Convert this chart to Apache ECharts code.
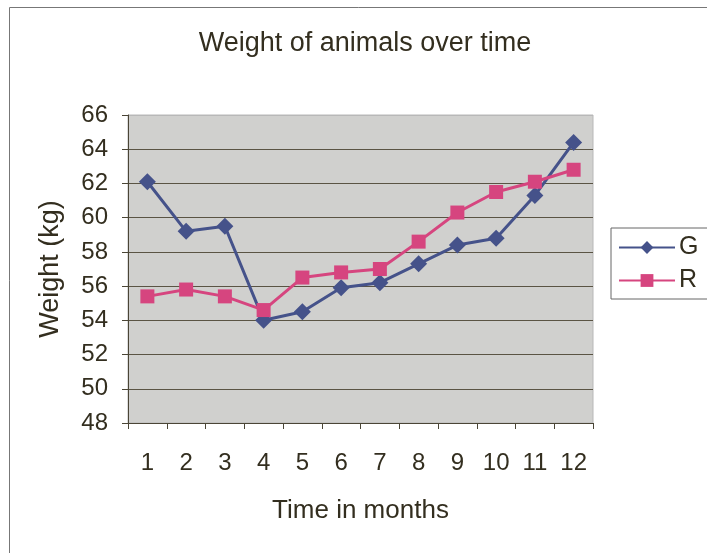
<!DOCTYPE html>
<html><head><meta charset="utf-8">
<script src="https://cdn.jsdelivr.net/npm/echarts@6/dist/echarts.min.js"></script>
<style>html,body{margin:0;padding:0;background:#fff}#c{width:707px;height:553px}</style>
</head><body><div id="c"></div>
<script>
const months = ['1','2','3','4','5','6','7','8','9','10','11','12'];
const seriesG = [62.1, 59.2, 59.5, 54.0, 54.5, 55.9, 56.2, 57.3, 58.4, 58.8, 61.3, 64.4];
const seriesR = [55.4, 55.8, 55.4, 54.6, 56.5, 56.8, 57.0, 58.6, 60.3, 61.5, 62.1, 62.8];
const yTicks = {min: 48, max: 66, interval: 2};

const txt = '#332e1f';
const font = '"Liberation Sans", Arial, sans-serif';
const chart = echarts.init(document.getElementById('c'));
chart.setOption({
  backgroundColor: '#fff',
  animation: false,
  textStyle: {fontFamily: font, color: txt},
  graphic: [{
    type: 'rect', shape: {x: 9.5, y: 7.5, width: 720, height: 560},
    style: {fill: null, stroke: '#777', lineWidth: 1}, z: -10
  }],
  title: {
    text: 'Weight of animals over time', left: 360, top: 25, textAlign: 'center',
    textStyle: {fontSize: 27, fontWeight: 'normal', color: txt, fontFamily: font}
  },
  legend: {
    orient: 'vertical', left: 611, top: 228, width: 94,
    padding: [7, 12, 6, 7], itemGap: 8, itemWidth: 56, itemHeight: 16,
    borderColor: '#666', borderWidth: 1, backgroundColor: '#fff',
    textStyle: {fontSize: 25, color: txt, fontFamily: font, padding: [0, 0, 0, -1]},
    data: ['G', 'R']
  },
  grid: {
    left: 128, top: 115, width: 465, height: 308, show: true,
    backgroundColor: '#d0d0ce', borderColor: '#b8b8b8', borderWidth: 1
  },
  xAxis: {
    type: 'category', data: months, boundaryGap: true,
    name: 'Time in months', nameLocation: 'middle', nameGap: 75,
    nameTextStyle: {fontSize: 26, color: txt, fontFamily: font},
    axisLine: {lineStyle: {color: '#4a4536', width: 1}},
    axisTick: {show: true, inside: false, length: 6, lineStyle: {color: '#4a4536'}},
    axisLabel: {fontSize: 24, color: txt, margin: 28, fontFamily: font},
    splitLine: {show: false}
  },
  yAxis: {
    type: 'value', min: yTicks.min, max: yTicks.max, interval: yTicks.interval,
    name: 'Weight (kg)', nameLocation: 'middle', nameGap: 64, nameRotate: 90,
    nameTextStyle: {fontSize: 27, color: txt, fontFamily: font},
    axisLine: {show: true, lineStyle: {color: '#4a4536', width: 1}},
    axisTick: {show: true, inside: false, length: 6, lineStyle: {color: '#4a4536'}},
    axisLabel: {fontSize: 24, color: txt, margin: 20, fontFamily: font},
    splitLine: {show: true, lineStyle: {color: ['#4a4536','#5a5444','#5a5444','#5a5444','#5a5444','#5a5444','#5a5444','#5a5444','#5a5444','#b8b8b8'], width: 1}}
  },
  series: [{
    name: 'G', type: 'line', data: seriesG,
    symbol: 'diamond', symbolSize: 17,
    lineStyle: {color: '#45528a', width: 3},
    itemStyle: {color: '#45528a'}
  }, {
    name: 'R', type: 'line', data: seriesR,
    symbol: 'rect', symbolSize: 14,
    lineStyle: {color: '#d6457f', width: 3},
    itemStyle: {color: '#d6457f'}
  }]
});
</script></body></html>
